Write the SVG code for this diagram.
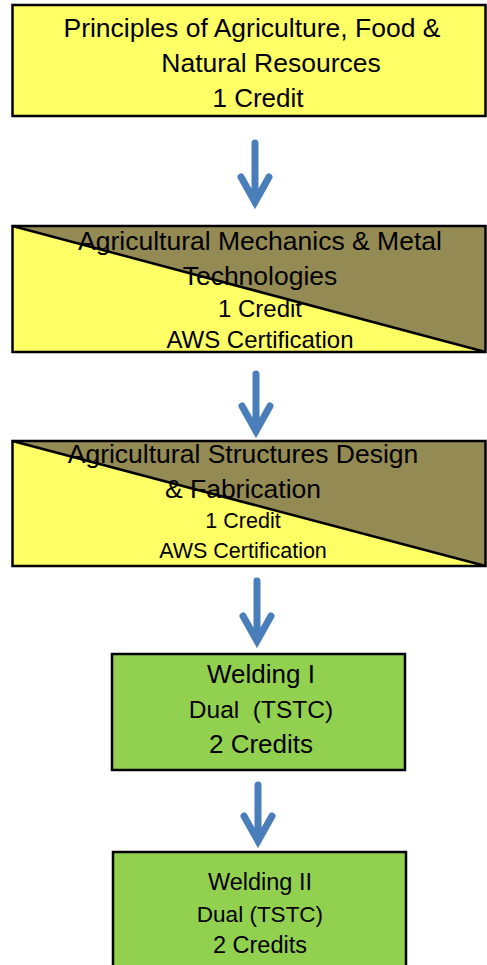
<svg xmlns="http://www.w3.org/2000/svg" width="487" height="965" viewBox="0 0 487 965">
<style>
.box{stroke:#000;stroke-width:2.5}
.yel{fill:#FFFF66}
.brn{fill:#948A54}
.grn{fill:#92D050}
.diag{stroke:#000;stroke-width:2.5;fill:none}
text{font-family:"Liberation Sans",Arial,sans-serif;fill:#000;text-anchor:middle}
.arr{fill:none;stroke:#4A7EBB;stroke-width:7;stroke-linecap:round;stroke-linejoin:miter}
</style>
<rect width="487" height="965" fill="#fff"/>
<g id="node-principles">
<rect class="box yel" x="12.5" y="5" width="473" height="111"/>
<text x="252" y="37" font-size="26.5">Principles of Agriculture, Food &amp;</text>
<text x="271" y="72" font-size="26.5">Natural Resources</text>
<text x="258" y="107" font-size="26">1 Credit</text>
</g>
<g id="node-mechanics">
<rect class="yel" x="12.5" y="226" width="473" height="126"/>
<polygon class="brn" points="12.5,226 485.5,226 485.5,352"/>
<line class="diag" x1="12.5" y1="226" x2="485.5" y2="352"/>
<rect class="box" fill="none" x="12.5" y="226" width="473" height="126"/>
<text x="260" y="250" font-size="26.5">Agricultural Mechanics &amp; Metal</text>
<text x="260" y="285" font-size="26.5">Technologies</text>
<text x="260" y="317" font-size="24">1 Credit</text>
<text x="260" y="348" font-size="24">AWS Certification</text>
</g>
<g id="node-structures">
<rect class="yel" x="12.5" y="441" width="473" height="125"/>
<polygon class="brn" points="12.5,441 485.5,441 485.5,566"/>
<line class="diag" x1="12.5" y1="441" x2="485.5" y2="566"/>
<rect class="box" fill="none" x="12.5" y="441" width="473" height="125"/>
<text x="243" y="463" font-size="26.5">Agricultural Structures Design</text>
<text x="243" y="498" font-size="26.5">&amp; Fabrication</text>
<text x="243" y="528" font-size="21.5">1 Credit</text>
<text x="243" y="558" font-size="21.5">AWS Certification</text>
</g>
<g id="node-welding1">
<rect class="box grn" x="112" y="654" width="293" height="116"/>
<text x="261" y="683" font-size="26">Welding I</text>
<text x="261" y="718" font-size="24.5" style="white-space:pre">Dual  (TSTC)</text>
<text x="261" y="753" font-size="26">2 Credits</text>
</g>
<g id="node-welding2">
<rect class="box grn" x="113" y="852" width="293" height="125"/>
<text x="260" y="890" font-size="23.5">Welding II</text>
<text x="260" y="922" font-size="22.5">Dual (TSTC)</text>
<text x="260" y="953" font-size="23.5">2 Credits</text>
</g>
<g id="connectors">
<path class="arr" d="M255,143 V202 M241,177 L255,202 L269,177"/>
<path class="arr" d="M256,374 V431 M242,406 L256,431 L270,406"/>
<path class="arr" d="M257,581 V641 M243,616 L257,641 L271,616"/>
<path class="arr" d="M258,785 V841 M244,816 L258,841 L272,816"/>
</g>
</svg>
